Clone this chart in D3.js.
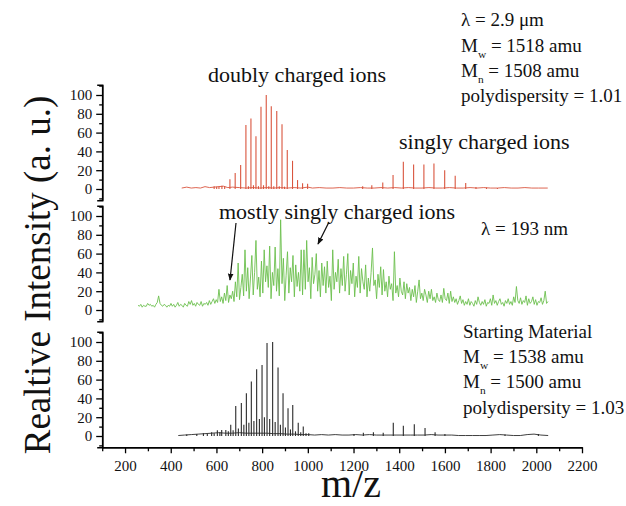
<!DOCTYPE html>
<html>
<head>
<meta charset="utf-8">
<script src="https://cdn.jsdelivr.net/npm/d3@7/dist/d3.min.js"></script>
<style>
  html, body { margin: 0; padding: 0; background: #fff; }
  svg { display: block; font-family: "Liberation Serif", "Times New Roman", serif; }
</style>
</head>
<body>
<svg id="chart" width="626" height="506"></svg>
<script>
// ---- tick labels ----
const xTicks = [200, 400, 600, 800, 1000, 1200, 1400, 1600, 1800, 2000, 2200];
const xMinorTicks = [100, 300, 500, 700, 900, 1100, 1300, 1500, 1700, 1900, 2100];
const yTicks = [0, 20, 40, 60, 80, 100];
const yMinorTicks = [-10, 10, 30, 50, 70, 90, 110];

// ---- IR (2.9 um) spectrum: peak sticks [m/z, intensity] and baseline ----
const redPeaks = [
  [590, 3], [601, 2.5], [611, 3], [624, 3.5], [636, 3],
  [659, 10.5], [682, 17], [706, 25.5], [729, 68], [740, 3], [751, 75], [762, 4],
  [773, 56], [784, 3], [795, 87.5], [806, 4], [818, 100], [829, 3], [840, 88],
  [851, 3], [864, 83], [875, 3], [887, 69], [898, 2.5], [910, 41.5], [933, 30],
  [955, 9.5], [977, 6], [999, 5.5],
  [1240, 3], [1280, 4], [1328, 7], [1373, 15], [1418, 29], [1463, 26], [1508, 26],
  [1552, 27], [1599, 20], [1645, 14], [1691, 6.5], [1736, 2], [1782, 1.5], [1830, 1]
];
const redBase = [
  [448, 1], [470, 2], [490, 1], [510, 1.5], [530, 1], [550, 2.5], [570, 1.5], [590, 2],
  [610, 2.5], [630, 3], [650, 1.5], [670, 2], [700, 1.5], [730, 1], [760, 1.5], [790, 1],
  [820, 1.5], [850, 1], [880, 1.5], [910, 1], [940, 1.5], [970, 1], [1000, 2], [1020, 1],
  [1050, 1.5], [1080, 1], [1110, 1], [1140, 1.5], [1170, 1], [1200, 1], [1230, 1.5],
  [1260, 1], [1290, 1], [1320, 1.5], [1350, 1], [1380, 1.5], [1410, 1], [1440, 1.5],
  [1470, 1], [1500, 1], [1530, 1.5], [1560, 1], [1590, 1], [1620, 1.5], [1650, 1],
  [1680, 1], [1710, 1.5], [1740, 1], [1770, 1.5], [1800, 1], [1830, 1], [1860, 1.5],
  [1890, 1], [1920, 1], [1950, 1.5], [1980, 1], [2010, 1], [2050, 1]
];

// ---- UV (193 nm) spectrum: intensities sampled every 6 m/z from 257 ----
const greenStart = 257;
const greenStep = 6;
const greenValues = [
  5, 4, 6, 3, 5, 4, 4, 7, 5, 6,
  4, 5, 3, 6, 8, 15, 7, 5, 4, 6,
  5, 3, 5, 4, 7, 4, 6, 3, 5, 8,
  4, 6, 5, 3, 7, 5, 4, 9, 6, 10,
  5, 7, 4, 8, 6, 5, 9, 4, 7, 6,
  8, 5, 10, 6, 9, 12, 7, 11, 8, 22,
  9, 14, 7, 18, 10, 26, 8, 16, 12, 20,
  9, 30, 14, 50, 11, 24, 38, 15, 64, 20,
  45, 12, 34, 58, 16, 40, 74, 22, 35, 14,
  52, 18, 64, 30, 47, 24, 68, 12, 40, 26,
  67, 20, 44, 15, 96, 28, 55, 10, 37, 62,
  18, 45, 30, 58, 14, 48, 25, 40, 20, 64,
  16, 64, 22, 74, 30, 45, 12, 56, 28, 38,
  60, 20, 42, 14, 50, 26, 46, 18, 52, 24,
  36, 10, 64, 22, 40, 30, 54, 18, 44, 26,
  57, 20, 38, 60, 16, 42, 28, 50, 14, 36,
  24, 57, 18, 44, 30, 22, 48, 14, 34, 20,
  40, 66, 26, 32, 12, 38, 24, 46, 16, 43,
  20, 30, 14, 36, 22, 28, 10, 62, 18, 26,
  14, 34, 20, 16, 30, 12, 28, 18, 24, 10,
  22, 14, 26, 8, 20, 32, 12, 18, 10, 22,
  16, 8, 20, 12, 22, 10, 14, 8, 18, 11,
  9, 16, 8, 23, 12, 10, 18, 7, 20, 9,
  14, 8, 12, 6, 10, 15, 7, 11, 5, 9,
  6, 12, 5, 9, 7, 4, 10, 6, 14, 8,
  5, 9, 6, 11, 4, 8, 7, 12, 5, 16,
  7, 10, 5, 9, 12, 6, 8, 4, 10, 7,
  12, 6, 9, 5, 14, 8, 25, 10, 7, 13,
  6, 10, 8, 15, 5, 12, 7, 9, 14, 6,
  11, 5, 9, 8, 13, 6, 10, 20, 7, 9
];

// ---- starting material spectrum: peak sticks and baseline ----
const blackPeaks = [
  [470, 1.5], [514, 2], [543, 3], [560, 2.5], [579, 4], [590, 3], [604, 6], [615, 4],
  [623, 6.5], [641, 6.5], [652, 5],
  [662.6, 12], [673, 6], [684.5, 32], [696, 8], [709, 35], [720, 12], [731, 45.5],
  [742, 14], [752.7, 58], [764, 16], [776, 71], [788, 18], [799.6, 75.5], [810, 20],
  [821.4, 99], [833, 18], [846, 100], [857, 15], [869.6, 73], [880, 12], [891.5, 45.5],
  [902, 9], [913.3, 29.5], [924, 7], [934, 33], [946, 5], [958, 14], [969, 4],
  [980, 10], [992, 3], [1004, 3],
  [1202, 2], [1243, 3.5], [1287, 4], [1330, 3.5], [1374, 14], [1418, 11], [1466, 12.5],
  [1513, 8.5], [1557, 4], [1600, 2], [1863, 1.5], [2009, 2]
];
const blackBase = [
  [433, 0.5], [460, 1], [490, 1.5], [520, 2], [550, 2.5], [580, 3], [610, 3.5], [640, 3],
  [670, 3], [700, 3.5], [730, 3], [760, 3], [790, 3], [820, 3], [850, 2.5], [880, 2.5],
  [910, 2], [940, 2], [970, 1.5], [1000, 1.5], [1030, 1], [1060, 1.5], [1090, 1],
  [1120, 1.5], [1150, 1], [1180, 1], [1210, 1.5], [1240, 1], [1270, 1.5], [1300, 1],
  [1330, 1], [1360, 1], [1390, 1], [1420, 1], [1450, 1], [1480, 1], [1510, 1],
  [1540, 1.5], [1570, 1], [1600, 1], [1630, 1], [1660, 0.5], [1690, 0.5], [1720, 0.5],
  [1750, 0.5], [1780, 0.5], [1810, 1], [1840, 1.5], [1870, 1], [1900, 0.5], [1930, 0.5],
  [1960, 1.5], [1990, 2], [2020, 1], [2052, 0.5]
];

// ---- layout ----
const svg = d3.select("#chart");
const FONT = '"Liberation Serif", "Times New Roman", serif';
const x = d3.scaleLinear().domain([100, 2200]).range([102.2, 582]);
const yDomain = [-12, 111];
const pxPerUnit = 0.94;
const panelZero = [189, 310, 436];   // pixel row of intensity 0 in each panel
const panelY = panelZero.map(z => d3.scaleLinear().domain(yDomain)
  .range([z - yDomain[0] * pxPerUnit, z - yDomain[1] * pxPerUnit]));

const red = "#d9553e", green = "#6cc04e", black = "#2a2a2a";

function styleAxis(g) {
  g.attr("font-family", FONT);
  g.selectAll("path.domain").attr("stroke", "#000").attr("stroke-width", 1.5);
  g.selectAll(".tick line").attr("stroke", "#000").attr("stroke-width", 1.3);
  g.selectAll(".tick text").attr("fill", "#111").attr("font-family", FONT);
}

// y axes, one per panel
panelY.forEach(y => {
  const gMinor = svg.append("g").attr("transform", "translate(102.2,0)")
    .call(d3.axisLeft(y).tickValues(yMinorTicks).tickSize(3).tickSizeOuter(0).tickFormat(""));
  styleAxis(gMinor);
  const g = svg.append("g").attr("transform", "translate(102.2,0)")
    .call(d3.axisLeft(y).tickValues(yTicks).tickSize(6).tickSizeOuter(5)
      .tickPadding(4).tickFormat(d3.format("d")));
  styleAxis(g);
  g.selectAll(".tick text").attr("font-size", 15);
});

// x axis
const xAxisY = panelY[2](yDomain[0]);
const gxMinor = svg.append("g").attr("transform", `translate(0,${xAxisY})`)
  .call(d3.axisBottom(x).tickValues(xMinorTicks).tickSize(4).tickSizeOuter(0).tickFormat(""));
styleAxis(gxMinor);
const gx = svg.append("g").attr("transform", `translate(0,${xAxisY})`)
  .call(d3.axisBottom(x).tickValues(xTicks).tickSize(6).tickSizeOuter(0)
    .tickPadding(7).tickFormat(d3.format("d")));
styleAxis(gx);
gx.selectAll(".tick text").attr("font-size", 15);

// stick spectra with a baseline trace
function drawSticks(peaks, base, y, color) {
  const line = d3.line().x(d => x(d[0])).y(d => y(d[1]));
  svg.append("path").datum(base).attr("d", line)
    .attr("fill", "none").attr("stroke", color).attr("stroke-width", 0.9);
  svg.append("g").selectAll("line").data(peaks).join("line")
    .attr("x1", d => x(d[0])).attr("x2", d => x(d[0]))
    .attr("y1", y(0)).attr("y2", d => y(d[1]))
    .attr("stroke", color).attr("stroke-width", 1.1);
}
drawSticks(redPeaks, redBase, panelY[0], red);
drawSticks(blackPeaks, blackBase, panelY[2], black);

// continuous UV trace
const greenLine = d3.line()
  .x((d, i) => x(greenStart + i * greenStep))
  .y(d => panelY[1](d));
svg.append("path").datum(greenValues).attr("d", greenLine)
  .attr("fill", "none").attr("stroke", green).attr("stroke-width", 0.9);

// ---- axis titles ----
svg.append("text").attr("x", 351).attr("y", 497).attr("text-anchor", "middle")
  .attr("font-family", FONT).attr("font-size", 40).attr("fill", "#111").text("m/z");
svg.append("text").attr("transform", "translate(50,275) rotate(-90)")
  .attr("text-anchor", "middle").attr("font-family", FONT).attr("font-size", 37)
  .attr("fill", "#111").text("Realtive Intensity (a. u.)");

// ---- annotations ----
function label(xp, yp, txt, size) {
  svg.append("text").attr("x", xp).attr("y", yp).attr("font-family", FONT)
    .attr("font-size", size).attr("fill", "#111").text(txt);
}
function molWeight(xp, yp, sub, rest, size) {
  const t = svg.append("text").attr("x", xp).attr("y", yp).attr("font-family", FONT)
    .attr("font-size", size).attr("fill", "#111");
  t.append("tspan").text("M");
  t.append("tspan").attr("font-size", size * 0.6).attr("dy", 6).text(sub);
  t.append("tspan").attr("dy", -6).text(" = " + rest);
}

label(208, 82, "doubly charged ions", 22);
label(399, 149, "singly charged ions", 22);
label(219, 219, "mostly singly charged ions", 22);

label(461, 26, "λ = 2.9 μm", 19);
molWeight(461, 52, "w", "1518 amu", 19);
molWeight(461, 77, "n", "1508 amu", 19);
label(461, 102, "polydispersity = 1.01", 19);

label(481, 235, "λ = 193 nm", 19);

label(463, 338, "Starting Material", 19);
molWeight(463, 363, "w", "1538 amu", 19);
molWeight(463, 388, "n", "1500 amu", 19);
label(463, 414, "polydispersity = 1.03", 19);

// arrows pointing at the UV trace
const defs = svg.append("defs");
defs.append("marker").attr("id", "arrow").attr("viewBox", "0 0 10 10")
  .attr("refX", 9).attr("refY", 5).attr("markerWidth", 7).attr("markerHeight", 7)
  .attr("orient", "auto").attr("markerUnits", "userSpaceOnUse")
  .append("path").attr("d", "M0,1 L10,5 L0,9 Z").attr("fill", "#111");
const arrows = [[[236, 223], [230, 280]], [[329, 222], [318, 244]]];
svg.append("g").selectAll("line").data(arrows).join("line")
  .attr("x1", d => d[0][0]).attr("y1", d => d[0][1])
  .attr("x2", d => d[1][0]).attr("y2", d => d[1][1])
  .attr("stroke", "#111").attr("stroke-width", 1.2)
  .attr("marker-end", "url(#arrow)");
</script>
</body>
</html>
